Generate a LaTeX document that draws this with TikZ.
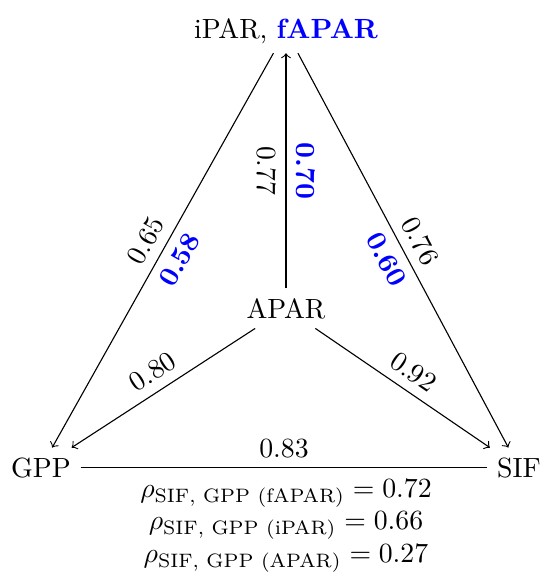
\documentclass[tikz,border=0pt]{standalone}
\usepackage{amsmath}
\begin{document}
\begin{tikzpicture}[x=0.36pt,y=-0.36pt,
  blab/.style={blue,font=\bfseries},
  conn/.style={line width=0.4pt}]
\useasboundingbox (0,0) rectangle (542,575);
\node[anchor=base] (ipar) at (286,38) {iPAR, \textcolor{blue}{\textbf{fAPAR}}};
\node[anchor=base] (apar) at (286,318) {APAR};
\node[anchor=base] (gpp) at (41,477) {GPP};
\node[anchor=base] (sif) at (519,477) {SIF};
\draw[conn,->] (apar) -- node[midway,rotate=-90,anchor=north] {0.77}
  node[midway,rotate=-90,anchor=south,blab] {0.70} (ipar);
\draw[conn,<-] (gpp) -- node[midway,sloped,above] {0.65}
  node[midway,sloped,below,blab] {0.58} (ipar);
\draw[conn,->] (ipar) -- node[midway,sloped,above] {0.76}
  node[midway,sloped,below,blab] {0.60} (sif);
\draw[conn,<-] (gpp) -- node[midway,sloped,above] {0.80} (apar);
\draw[conn,->] (apar) -- node[midway,sloped,above] {0.92} (sif);
\draw[conn] (gpp) -- node[midway,above] {0.83} (sif);
\node[anchor=base] (r1) at (286,497) {$\rho_{\text{SIF, GPP (fAPAR)}} = 0.72$};
\node[anchor=base] (r2) at (286,529.5) {$\rho_{\text{SIF, GPP (iPAR)}} = 0.66$};
\node[anchor=base] (r3) at (286,562) {$\rho_{\text{SIF, GPP (APAR)}} = 0.27$};
\end{tikzpicture}
\end{document}
